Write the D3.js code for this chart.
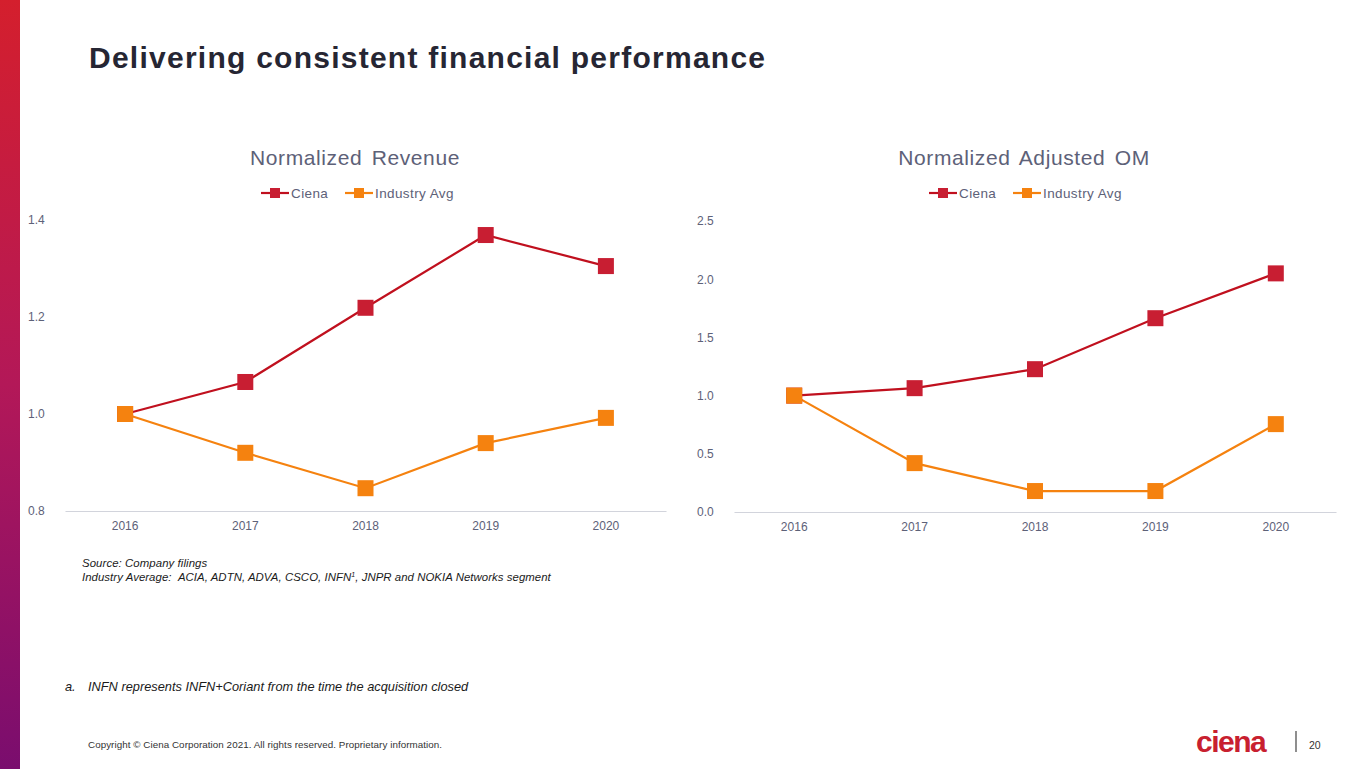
<!DOCTYPE html>
<html><head><meta charset="utf-8">
<script src="https://cdn.jsdelivr.net/npm/d3@7/dist/d3.min.js"></script>
<style>
body{margin:0;background:#fff;}
svg{display:block;font-family:"Liberation Sans",Arial,sans-serif;}
</style></head>
<body><svg id="s" width="1365" height="769"></svg>
<script>
const years = ["2016","2017","2018","2019","2020"];
const revCiena = [1.0, 1.066, 1.219, 1.369, 1.305];
const revIndustry = [1.0, 0.920, 0.847, 0.940, 0.992];
const omCiena = [1.0, 1.064, 1.227, 1.665, 2.05];
const omIndustry = [1.0, 0.42, 0.18, 0.18, 0.755];
const revTicks = [0.8, 1.0, 1.2, 1.4];
const omTicks = [0.0, 0.5, 1.0, 1.5, 2.0, 2.5];
const seriesNames = ["Ciena", "Industry Avg"];

const svg = d3.select("#s");
const defs = svg.append("defs");
const g = defs.append("linearGradient").attr("id","bar").attr("x1",0).attr("y1",0).attr("x2",0).attr("y2",1);
g.append("stop").attr("offset","0%").attr("stop-color","#d41f2d");
g.append("stop").attr("offset","50%").attr("stop-color","#b31858");
g.append("stop").attr("offset","100%").attr("stop-color","#7a0d6e");
svg.append("rect").attr("x",0).attr("y",0).attr("width",20).attr("height",769).attr("fill","url(#bar)");

svg.append("text").attr("x",89).attr("y",68).attr("font-size",30).attr("font-weight","bold")
  .attr("letter-spacing","1.25").attr("fill","#262633").text("Delivering consistent financial performance");

const colC = "#c0101e", mkC = "#c81e32", colI = "#f5820f", mkI = "#f5820f";
const txtCol = "#5d6178";

function chart(o){
  const x = d3.scaleBand().domain(years).range([o.x0,o.x1]);
  const y = d3.scaleLinear().domain(o.domain).range([o.yb,o.yt]);
  const gg = svg.append("g");
  gg.append("text").attr("x",o.cx).attr("y",165).attr("text-anchor","middle").attr("font-size",21)
    .attr("fill",txtCol).attr("letter-spacing","0.6").attr("word-spacing","3").text(o.title);
  const leg = [{n:seriesNames[0],c:colC,m:mkC,x:o.lx},{n:seriesNames[1],c:colI,m:mkI,x:o.lx+84}];
  leg.forEach(l=>{
    gg.append("line").attr("x1",l.x).attr("x2",l.x+28).attr("y1",193).attr("y2",193).attr("stroke",l.c).attr("stroke-width",2.2);
    gg.append("rect").attr("x",l.x+9).attr("y",188).attr("width",10).attr("height",10).attr("fill",l.m);
    gg.append("text").attr("x",l.x+30).attr("y",198).attr("font-size",13.5).attr("letter-spacing","0.4").attr("fill",txtCol).text(l.n);
  });
  const ya = d3.axisLeft(y).tickValues(o.ticks).tickFormat(d3.format(".1f")).tickSize(0).tickPadding(0);
  const yg = gg.append("g").attr("transform",`translate(${o.x0-37},0)`).call(ya);
  yg.select(".domain").remove();
  yg.selectAll("text").attr("text-anchor","start").attr("font-size",12).attr("fill",txtCol).attr("font-family","Liberation Sans, Arial, sans-serif");
  const xa = d3.axisBottom(x).tickSize(0).tickPadding(10);
  const xg = gg.append("g").attr("transform",`translate(0,${o.yb})`).call(xa);
  xg.select(".domain").attr("stroke","#d2d4dc").attr("stroke-width",1.2);
  xg.selectAll("text").attr("font-size",12).attr("fill",txtCol).attr("font-family","Liberation Sans, Arial, sans-serif");
  const cx = d => x(d) + x.bandwidth()/2;
  [{v:o.ind,c:colI},{v:o.ci,c:colC}].forEach(s=>{
    const line = d3.line().x((d,i)=>cx(years[i])).y(d=>y(d));
    gg.append("path").attr("d",line(s.v)).attr("fill","none").attr("stroke",s.c).attr("stroke-width",2.2);
  });
  [{v:o.ci,m:mkC},{v:o.ind,m:mkI}].forEach(s=>{
    gg.selectAll(null).data(s.v).enter().append("rect")
      .attr("x",(d,i)=>cx(years[i])-8).attr("y",d=>y(d)-8).attr("width",16).attr("height",16).attr("fill",s.m);
  });
}
chart({x0:65,x1:666,yb:511,yt:220,domain:[0.8,1.4],ticks:revTicks,ci:revCiena,ind:revIndustry,
  title:"Normalized Revenue",cx:355,lx:261});
chart({x0:734,x1:1336,yb:512,yt:221,domain:[0,2.5],ticks:omTicks,ci:omCiena,ind:omIndustry,
  title:"Normalized Adjusted OM",cx:1024,lx:929});

const fn = svg.append("g").attr("font-style","italic").attr("fill","#1a1a1a");
fn.append("text").attr("x",82).attr("y",567).attr("font-size",11.4).attr("letter-spacing","0.08").text("Source: Company filings");
const t2 = fn.append("text").attr("x",82).attr("y",581).attr("font-size",11.4).attr("letter-spacing","0.05");
t2.append("tspan").text("Industry Average:\u00a0\u00a0ACIA, ADTN, ADVA, CSCO, INFN");
t2.append("tspan").attr("font-size",7).attr("dy",-4).text("1");
t2.append("tspan").attr("dy",4).text(", JNPR and NOKIA Networks segment");
fn.append("text").attr("x",65).attr("y",691).attr("font-size",12.8).text("a.");
fn.append("text").attr("x",88).attr("y",691).attr("font-size",12.8).text("INFN represents INFN+Coriant from the time the acquisition closed");

svg.append("text").attr("x",88).attr("y",748).attr("font-size",9.8).attr("letter-spacing","0.06").attr("fill","#333").text("Copyright © Ciena Corporation 2021. All rights reserved. Proprietary information.");
svg.append("text").attr("x",1196).attr("y",752).attr("font-size",30).attr("font-weight","bold").attr("fill","#c8202f")
  .attr("letter-spacing","-1.5").attr("font-family","Liberation Sans, Arial, sans-serif").text("ciena");
svg.append("line").attr("x1",1296).attr("x2",1296).attr("y1",731).attr("y2",752).attr("stroke","#444").attr("stroke-width",1.2);
svg.append("text").attr("x",1309).attr("y",749).attr("font-size",10.5).attr("fill","#333").text("20");
</script></body></html>
